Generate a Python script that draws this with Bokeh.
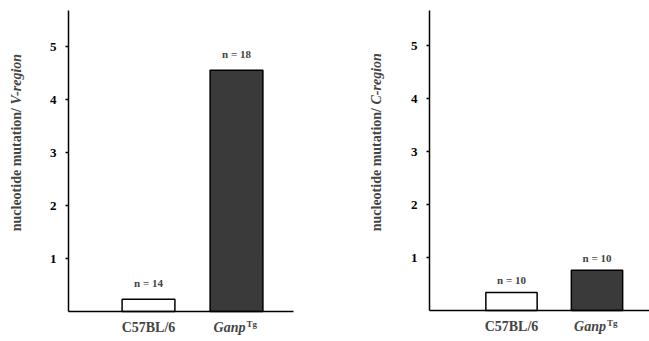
import math
from bokeh.plotting import figure
from bokeh.layouts import row
from bokeh.models import Label, Range1d, FixedTicker, LinearAxis
from bokeh.embed import file_html
from bokeh.resources import INLINE

# ---- data ----
groups = ["C57BL/6", "Ganp"]
group_x = [1, 2]
v_region = [0.23, 4.55]
c_region = [0.34, 0.76]
v_n = ["n = 14", "n = 18"]
c_n = ["n = 10", "n = 10"]
y_ticks = [1, 2, 3, 4, 5]
bar_colors = ["white", "#3a3a3a"]

FONT = "Liberation Serif"
FIG_H = 340
UNIT_Y = 53.0


def panel(values, nlabels, region_word, width, axis_px, first_px, unit_x,
          base_px, top_px, xend_px, n_off, title_px):
    # linear maps: canvas px -> data
    def dx(u):
        return 1 + (u - first_px) / unit_x

    def dy(v):
        return (base_px - v) / UNIT_Y

    p = figure(width=width, height=FIG_H, output_backend="svg", toolbar_location=None,
               x_range=Range1d(dx(0), dx(width)), y_range=Range1d(dy(FIG_H), dy(0)),
               x_axis_location=None, y_axis_location=None,
               min_border_left=0, min_border_right=0,
               min_border_top=0, min_border_bottom=0)
    p.outline_line_color = None
    p.grid.visible = False
    p.title.visible = False

    p.vbar(x=group_x, top=values, width=0.6, fill_color=bar_colors,
           line_color="black", line_width=1.5)

    ya = LinearAxis(fixed_location=dx(axis_px), bounds=(0, dy(top_px)),
                    ticker=FixedTicker(ticks=y_ticks))
    ya.minor_tick_line_color = None
    ya.major_tick_in = 0
    ya.major_tick_out = 3
    ya.major_tick_line_width = 1.5
    ya.axis_line_width = 1.5
    ya.major_label_standoff = 9
    ya.major_label_text_font = FONT
    ya.major_label_text_font_style = "bold"
    ya.major_label_text_font_size = "13px"
    ya.major_label_text_color = "black"
    p.add_layout(ya, "left")

    xa = LinearAxis(fixed_location=0, bounds=(dx(axis_px), dx(xend_px)),
                    ticker=FixedTicker(ticks=[]))
    xa.axis_line_width = 1.5
    xa.major_tick_line_color = None
    xa.minor_tick_line_color = None
    p.add_layout(xa, "below")

    # n labels
    for gx, v, t in zip(group_x, values, nlabels):
        p.add_layout(Label(x=gx, y=v, y_offset=n_off, text=t, text_align="center",
                           text_baseline="middle", text_font=FONT,
                           text_font_style="bold", text_font_size="11px"))

    # category labels
    ylab = dy(base_px + 16)
    p.add_layout(Label(x=group_x[0], y=ylab, text=groups[0],
                       text_align="center", text_baseline="middle", text_font=FONT,
                       text_font_style="bold", text_font_size="14px"))
    p.add_layout(Label(x=group_x[1], y=ylab, x_offset=9, text=groups[1],
                       text_align="right", text_baseline="middle", text_font=FONT,
                       text_font_style="bold italic", text_font_size="14px"))
    p.add_layout(Label(x=group_x[1], y=ylab, x_offset=10, y_offset=4, text="Tg",
                       text_align="left", text_baseline="middle", text_font=FONT,
                       text_font_style="bold", text_font_size="9px"))

    # y axis title (two parts, rotated)
    lx = dx(title_px)
    ly = dy(104)
    p.add_layout(Label(x=lx, y=ly, text="nucleotide mutation/ ",
                       angle=math.pi / 2, text_align="right", text_baseline="middle",
                       text_font=FONT, text_font_style="bold", text_font_size="14px"))
    p.add_layout(Label(x=lx, y=ly, text=region_word,
                       angle=math.pi / 2, text_align="left", text_baseline="middle",
                       text_font=FONT, text_font_style="bold italic", text_font_size="14px"))
    return p


p1 = panel(v_region, v_n, "V-region", width=330, axis_px=68, first_px=148, unit_x=88.0,
           base_px=311, top_px=10, xend_px=293, n_off=16, title_px=16)
p2 = panel(c_region, c_n, "C-region", width=319, axis_px=99, first_px=181, unit_x=85.5,
           base_px=310, top_px=10, xend_px=319, n_off=12, title_px=46)

layout = row(p1, p2)
open("out.html", "w").write(file_html(layout, INLINE))
